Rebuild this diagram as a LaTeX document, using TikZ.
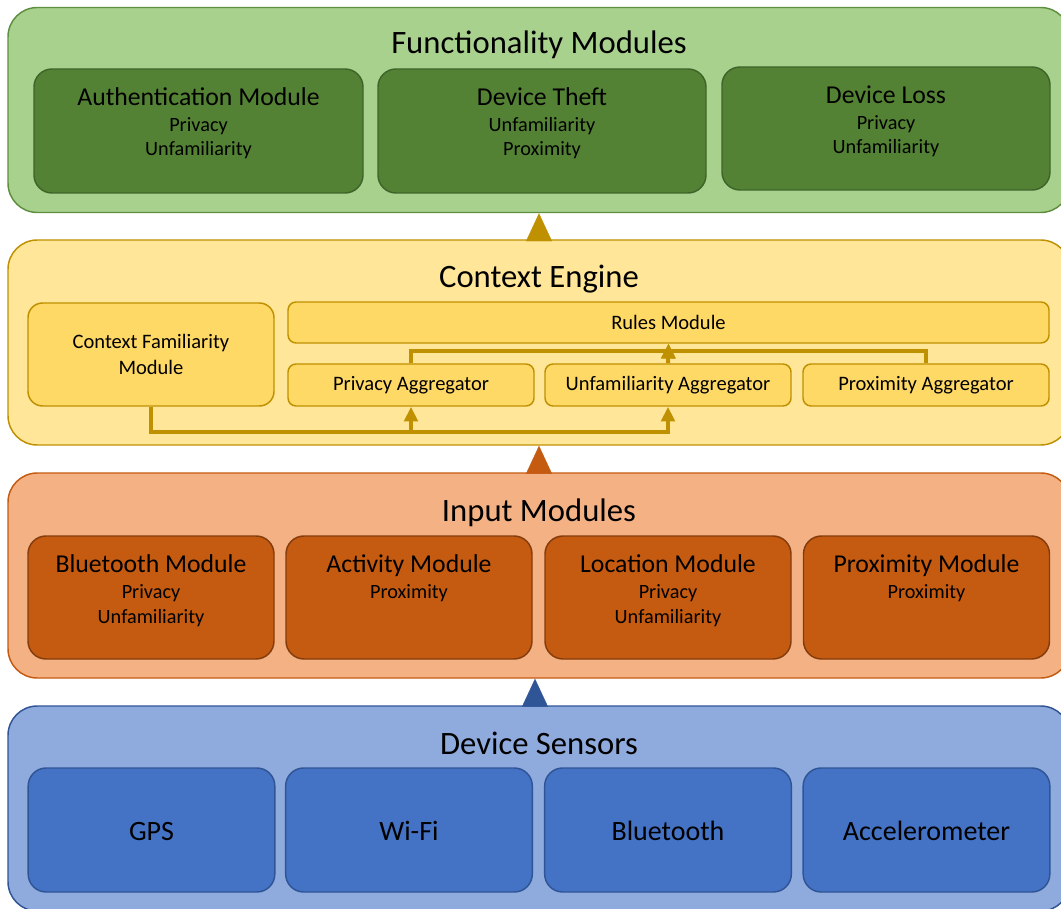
\documentclass[tikz,border=0pt]{standalone}
\usepackage{fontspec}
\setmainfont{Carlito}
\usepackage{xcolor}
\definecolor{funcFill}{HTML}{A9D18E}
\definecolor{funcLine}{HTML}{5E8F3F}
\definecolor{funcBox}{HTML}{548235}
\definecolor{funcBoxLine}{HTML}{3E6529}
\definecolor{ctxFill}{HTML}{FFE699}
\definecolor{ctxLine}{HTML}{BF9000}
\definecolor{ctxBox}{HTML}{FFD966}
\definecolor{inFill}{HTML}{F4B183}
\definecolor{inLine}{HTML}{C55A11}
\definecolor{inBox}{HTML}{C55A11}
\definecolor{inBoxLine}{HTML}{843C0C}
\definecolor{senFill}{HTML}{8FAADC}
\definecolor{senLine}{HTML}{2F5597}
\definecolor{senBox}{HTML}{4472C4}
\usepackage{tikz}
\usetikzlibrary{arrows.meta}

\begin{document}
\begin{tikzpicture}[x=0.75pt, y=-0.75pt,
  layer/.style={draw, line width=1.1pt, rounded corners=22pt, inner sep=0pt,
    minimum width=796.5pt, minimum height=153.75pt},
  modbox/.style={draw, line width=1.1pt, rounded corners=13.5pt, inner sep=0pt},
  ctxbox/.style={draw=ctxLine, fill=ctxBox, line width=1.1pt, inner sep=0pt,
    rounded corners=6pt, minimum width=184.5pt, minimum height=31.5pt,
    font=\fontsize{15.4pt}{19.5pt}\selectfont, align=center},
  ltitle/.style={anchor=base, inner sep=0pt, font=\fontsize{24.5pt}{29pt}\selectfont},
  mhead/.style={anchor=base, inner sep=0pt, font=\fontsize{19.3pt}{23pt}\selectfont},
  msub/.style={anchor=base, inner sep=0pt, align=center, font=\fontsize{15.2pt}{18pt}\selectfont},
  gate/.style={line width=0.2pt, -{Triangle[length=21pt, width=19.5pt]}},
  link/.style={ctxLine, line width=3pt, -{Triangle[length=11pt, width=10pt]}}]
  \useasboundingbox (0,0) rectangle (1061,909);

  % ---------- functionality modules ----------
  \node[layer, draw=funcLine, fill=funcFill] (func) at (539,110) {};
  \node[ltitle] (funcT) at (539,54) {Functionality Modules};
  \node[modbox, draw=funcBoxLine, fill=funcBox, minimum width=246.75pt, minimum height=93pt] (auth) at (198.5,131) {};
  \node[modbox, draw=funcBoxLine, fill=funcBox, minimum width=246pt, minimum height=93pt] (theft) at (542,131) {};
  \node[modbox, draw=funcBoxLine, fill=funcBox, minimum width=246pt, minimum height=92.25pt] (loss) at (886,128.5) {};
  \node[mhead] (authT) at ([yshift=-28pt]auth.north) {Authentication Module};
  \node[msub] (authS) at ([yshift=-65.5pt]auth.north) {Privacy\\Unfamiliarity};
  \node[mhead] (theftT) at ([yshift=-28pt]theft.north) {Device Theft};
  \node[msub] (theftS) at ([yshift=-65.5pt]theft.north) {Unfamiliarity\\Proximity};
  \node[mhead] (lossT) at ([yshift=-28pt]loss.north) {Device Loss};
  \node[msub] (lossS) at ([yshift=-65.5pt]loss.north) {Privacy\\Unfamiliarity};

  % ---------- context engine ----------
  \node[layer, draw=ctxLine, fill=ctxFill] (ctx) at (539,342.5) {};
  \node[ltitle] (ctxT) at (539,288) {Context Engine};
  \node[ctxbox, rounded corners=11pt, minimum height=77.25pt] (cf) at (151,354.5) {Context Familiarity\\Module};
  \node[ctxbox, minimum width=570.75pt, minimum height=30.75pt] (rules) at (668.5,322.5) {Rules Module};
  \node[ctxbox] (pagg) at (411,385) {Privacy Aggregator};
  \node[ctxbox] (uagg) at (668,385) {Unfamiliarity Aggregator};
  \node[ctxbox] (xagg) at (926,385) {Proximity Aggregator};
  % familiarity feeds the aggregators
  \draw[link] (cf.south) -- ++(0,25) -| (pagg.south);
  \draw[link] (cf.south) -- ++(0,25) -| (uagg.south);
  % aggregators feed the rules
  \draw[link] (pagg.north) -- ++(0,-12) -| (rules.south);
  \draw[link] (xagg.north) -- ++(0,-12) -| (rules.south);
  \draw[link] (uagg.north) -- (rules.south);

  % ---------- input modules ----------
  \node[layer, draw=inLine, fill=inFill] (input) at (539,575.5) {};
  \node[ltitle] (inputT) at (539,521) {Input Modules};
  \node[modbox, draw=inBoxLine, fill=inBox, minimum width=184.5pt, minimum height=92.25pt] (btm) at (151,597.5) {};
  \node[modbox, draw=inBoxLine, fill=inBox, minimum width=184.5pt, minimum height=92.25pt] (actm) at (409,597.5) {};
  \node[modbox, draw=inBoxLine, fill=inBox, minimum width=184.5pt, minimum height=92.25pt] (locm) at (668,597.5) {};
  \node[modbox, draw=inBoxLine, fill=inBox, minimum width=184.5pt, minimum height=92.25pt] (proxm) at (926.5,597.5) {};
  \node[mhead] (btmT) at ([yshift=-28pt]btm.north) {Bluetooth Module};
  \node[msub, font=\fontsize{15.2pt}{18.75pt}\selectfont] (btmS) at ([yshift=-66pt]btm.north) {Privacy\\Unfamiliarity};
  \node[mhead] (actmT) at ([yshift=-28pt]actm.north) {Activity Module};
  \node[msub] (actmS) at ([yshift=-47.25pt]actm.north) {Proximity};
  \node[mhead] (locmT) at ([yshift=-28pt]locm.north) {Location Module};
  \node[msub, font=\fontsize{15.2pt}{18.75pt}\selectfont] (locmS) at ([yshift=-66pt]locm.north) {Privacy\\Unfamiliarity};
  \node[mhead] (proxmT) at ([yshift=-28pt]proxm.north) {Proximity Module};
  \node[msub] (proxmS) at ([yshift=-47.25pt]proxm.north) {Proximity};

  % ---------- device sensors ----------
  \node[layer, draw=senLine, fill=senFill] (sens) at (539,808.5) {};
  \node[ltitle] (sensT) at (539,754) {Device Sensors};
  \tikzset{sensbox/.style={modbox, draw=senLine, fill=senBox, minimum width=185pt, minimum height=93pt,
    text height=16pt, text depth=0pt, font=\fontsize{21pt}{25pt}\selectfont}}
  \node[sensbox] (gps) at (151.5,830) {GPS};
  \node[sensbox] (wifi) at (409,830) {Wi-Fi};
  \node[sensbox] (bt) at (668,830) {Bluetooth};
  \node[sensbox] (acc) at (926.5,830) {Accelerometer};

  % ---------- flow between the layers ----------
  \draw[gate, ctxLine] (ctx.north) -- (func.south);
  \draw[gate, inLine] (input.north) -- (ctx.south);
  \draw[gate, senLine] ([xshift=-3pt]sens.north) -- ([xshift=-3pt]input.south);
\end{tikzpicture}
\end{document}
